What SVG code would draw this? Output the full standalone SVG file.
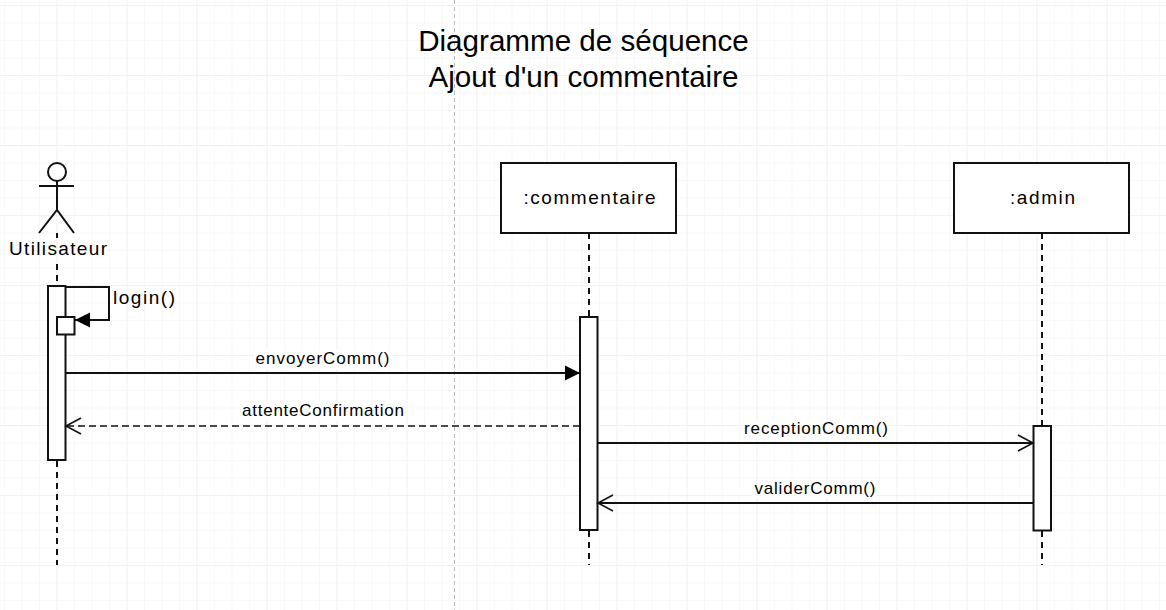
<svg xmlns="http://www.w3.org/2000/svg" width="1166" height="610" viewBox="0 0 1166 610">
<style>
text{font-family:"Liberation Sans",Arial,sans-serif;fill:#000}
.t{font-size:29.6px;text-anchor:middle}
.n{font-size:19px}
.m{font-size:17px}
.bg{fill:#fff}
.box{fill:#fff;stroke:#111;stroke-width:2}
.ln{fill:none;stroke:#111;stroke-width:2}
.life{fill:none;stroke:#111;stroke-width:2;stroke-dasharray:6 5}
.dash{fill:none;stroke:#111;stroke-width:1.6;stroke-dasharray:7 4}
</style>
<defs>
<pattern id="minor" width="17.5" height="17.5" patternUnits="userSpaceOnUse" x="4" y="5"><path d="M0 0H17.5M0 0V17.5" fill="none" stroke="#f3f3f3" stroke-width="1"/></pattern>
<pattern id="major" width="70" height="70" patternUnits="userSpaceOnUse" x="56.5" y="5"><path d="M0 0H70M0 0V70" fill="none" stroke="#ebebeb" stroke-width="1"/></pattern>
<marker id="fill" markerUnits="userSpaceOnUse" markerWidth="17" markerHeight="18" refX="15" refY="9" orient="auto"><path d="M0 1.500L15 9L0 16.500Z" fill="#000"/></marker>
<marker id="open" markerUnits="userSpaceOnUse" markerWidth="18" markerHeight="18" refX="16" refY="9" orient="auto"><path d="M1 1L16 9L1 17" fill="none" stroke="#111" stroke-width="1.6"/></marker>
</defs>
<rect width="1166" height="610" fill="#fff"/>
<rect width="1166" height="610" fill="url(#minor)"/>
<rect width="1166" height="610" fill="url(#major)"/>
<path d="M454.5 0V610" stroke="#bbb" stroke-width="1" stroke-dasharray="4 3" fill="none"/>
<g id="title">
<text class="t" x="583.5" y="51">Diagramme de séquence</text>
<text class="t" x="583.5" y="87">Ajout d'un commentaire</text>
</g>
<g id="lifelines">
<path class="life" d="M57 233V238M57 264V286M57 461V565"/>
<path class="life" d="M589 233V317M589 531V565"/>
<path class="life" d="M1042 233V426M1042 531V565"/>
</g>
<g id="actor">
<circle cx="57" cy="172" r="9" fill="#fff" stroke="#111" stroke-width="2"/>
<path class="ln" d="M57 181V210M39 186H74M39 233L57 210L74 233"/>
<text class="n" x="58" y="255" text-anchor="middle" textLength="98">Utilisateur</text>
</g>
<g id="commentaire">
<rect class="box" x="501" y="163" width="175" height="70"/>
<text class="n" x="589.5" y="204" text-anchor="middle" textLength="132">:commentaire</text>
</g>
<g id="admin">
<rect class="box" x="954" y="163" width="175" height="70"/>
<text class="n" x="1042.5" y="204" text-anchor="middle" textLength="65">:admin</text>
</g>
<g id="activation-user">
<rect class="box" x="48" y="286" width="17.5" height="174"/>
<rect class="box" x="57" y="317" width="17.5" height="17.5"/>
</g>
<g id="activation-commentaire"><rect class="box" x="580" y="317" width="17.5" height="213"/></g>
<g id="activation-admin"><rect class="box" x="1033.5" y="426" width="17.5" height="104.500"/></g>
<g id="connectors">
<path class="ln" d="M65.500 287H109V320H75" marker-end="url(#fill)"/>
<path class="ln" d="M65.500 373H580" marker-end="url(#fill)"/>
<path class="dash" d="M580 426H66" marker-end="url(#open)"/>
<path class="ln" d="M597.500 443H1033" marker-end="url(#open)"/>
<path class="ln" d="M1033.500 503H598" marker-end="url(#open)"/>
</g>
<g id="labels">
<rect class="bg" x="254" y="350" width="137" height="19"/>
<rect class="bg" x="241" y="402" width="164" height="19"/>
<rect class="bg" x="743" y="420" width="146" height="19"/>
<rect class="bg" x="753" y="480" width="124" height="19"/>
<text class="n" x="113" y="303.500" textLength="62">login()</text>
<text class="m" x="322.500" y="364" text-anchor="middle" textLength="134">envoyerComm()</text>
<text class="m" x="323" y="416" text-anchor="middle" textLength="162">attenteConfirmation</text>
<text class="m" x="816" y="434" text-anchor="middle" textLength="144">receptionComm()</text>
<text class="m" x="815" y="494" text-anchor="middle" textLength="121">validerComm()</text>
</g>
</svg>
